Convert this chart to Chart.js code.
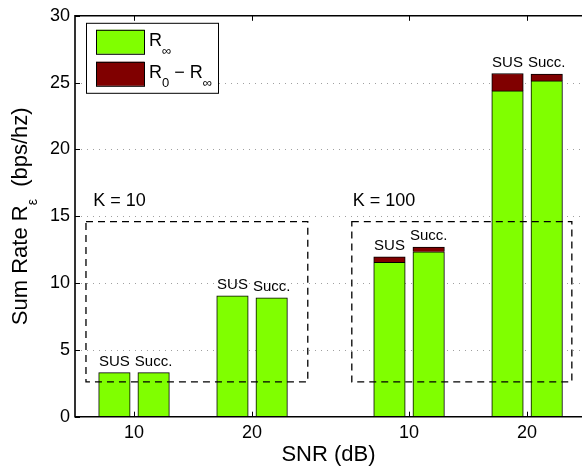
<!DOCTYPE html>
<html>
<head>
<meta charset="utf-8">
<script src="https://cdn.jsdelivr.net/npm/chart.js@4/dist/chart.umd.min.js"></script>
<style>
  html, body { margin: 0; padding: 0; background: #fff; overflow: hidden; }
  #wrap { width: 582px; height: 468px; }
</style>
</head>
<body>
<div id="wrap"><canvas id="c" width="582" height="468"></canvas></div>
<script>
// SNR tick labels, one per bar group (two user-count settings)
const snrLabels = ['10', '20', '10', '20'];
const userCountLabels = ['K = 10', 'K = 100'];
const schemeLabels = ['SUS', 'Succ.'];

// Sum rate per bar, ordered group by group: [SUS, Succ.] for each SNR group
const rateInf = [3.3, 3.3, 9.05, 8.9, 11.55, 12.34, 24.38, 25.13];   // R_inf
const rateGap = [0, 0, 0, 0, 0.42, 0.35, 1.3, 0.5];                   // R_0 - R_inf

const yTicks = [0, 5, 10, 15, 20, 25, 30];

// Layout of the bar groups along the x axis
const FONT = '"Liberation Sans", Arial, Helvetica, sans-serif';
const groupGap = 0.33;          // extra space between the K = 10 and K = 100 halves
const barOffset = 0.166;        // distance of each bar from its group centre
const groupCenter = g => 1 + g + Math.floor(g / 2) * groupGap;
const xMin = 0.5;
const xMax = groupCenter(snrLabels.length - 1) + 0.465;

const greenPts = [], redPts = [];
rateInf.forEach((v, i) => {
  const g = Math.floor(i / 2), s = i % 2;
  const x = groupCenter(g) + (s === 0 ? -barOffset : barOffset);
  greenPts.push({ x, y: v });
  redPts.push({ x, y: rateGap[i] });
});

// Dashed frames around each K setting, with the label placed above
const kFrames = [
  { x0: 0.593, x1: 2.472, y0: 2.6, y1: 14.6, labelX: 0.655, labelY: 15.8 },
  { x0: 2.845, x1: 4.709, y0: 2.6, y1: 14.6, labelX: 2.853, labelY: 15.8 }
];

// Rich-text pieces (subscripts) for legend and y-axis title
const legendParts = [
  [{ t: 'R' }, { t: '\u221E', sub: true }],
  [{ t: 'R' }, { t: '0', sub: true }, { t: ' \u2212 R' }, { t: '\u221E', sub: true }]
];
const yTitleParts = [{ t: 'Sum Rate R' }, { t: '\u03B5', sub: true }, { t: '  (bps/hz)' }];

function richWidth(ctx, parts, size, subSize) {
  let w = 0;
  for (const p of parts) {
    ctx.font = `${p.sub ? subSize : size}px ${FONT}`;
    w += ctx.measureText(p.t).width;
  }
  return w;
}
function drawRich(ctx, parts, x, y, size, subSize, subShift) {
  let cx = x;
  for (const p of parts) {
    ctx.font = `${p.sub ? subSize : size}px ${FONT}`;
    ctx.fillText(p.t, cx, y + (p.sub ? subShift : 0));
    cx += ctx.measureText(p.t).width;
  }
}

const decorations = {
  id: 'decorations',
  beforeDatasetsDraw(chart) {
    const { ctx, chartArea: a, scales: { x, y } } = chart;
    ctx.save();
    // dotted horizontal grid
    ctx.strokeStyle = '#a0a0a0';
    ctx.lineWidth = 1;
    ctx.setLineDash([1, 5]);
    yTicks.slice(1, -1).forEach(v => {
      const py = Math.round(y.getPixelForValue(v)) + 0.5;
      ctx.beginPath(); ctx.moveTo(a.left, py); ctx.lineTo(a.right, py); ctx.stroke();
    });
    ctx.setLineDash([]);
    // inward tick marks
    ctx.strokeStyle = '#000';
    yTicks.forEach(v => {
      const py = Math.round(y.getPixelForValue(v)) + 0.5;
      ctx.beginPath(); ctx.moveTo(a.left, py); ctx.lineTo(a.left + 5, py); ctx.stroke();
    });
    snrLabels.forEach((_, g) => {
      const px = Math.round(x.getPixelForValue(groupCenter(g))) + 0.5;
      ctx.beginPath(); ctx.moveTo(px, a.bottom); ctx.lineTo(px, a.bottom - 5); ctx.stroke();
      ctx.beginPath(); ctx.moveTo(px, a.top); ctx.lineTo(px, a.top + 5); ctx.stroke();
    });
    ctx.restore();
  },
  afterDatasetsDraw(chart) {
    const { ctx, chartArea: a, scales: { x, y } } = chart;
    ctx.save();
    // axes frame (left, top, bottom; the right side lies at the canvas edge)
    ctx.strokeStyle = '#000';
    ctx.lineWidth = 1.6;
    ctx.beginPath();
    ctx.moveTo(a.right + 2, a.top);
    ctx.lineTo(a.left, a.top);
    ctx.lineTo(a.left, a.bottom);
    ctx.lineTo(a.right + 2, a.bottom);
    ctx.stroke();

    // dashed frames and K labels
    ctx.lineWidth = 1.3;
    ctx.setLineDash([7, 5]);
    kFrames.forEach(f => {
      const x0 = x.getPixelForValue(f.x0), x1 = x.getPixelForValue(f.x1);
      const y0 = y.getPixelForValue(f.y0), y1 = y.getPixelForValue(f.y1);
      ctx.strokeRect(x0, y1, x1 - x0, y0 - y1);
    });
    ctx.setLineDash([]);
    ctx.fillStyle = '#000';
    ctx.textAlign = 'left';
    ctx.textBaseline = 'alphabetic';
    ctx.font = `18px ${FONT}`;
    kFrames.forEach((f, k) => {
      ctx.fillText(userCountLabels[k], x.getPixelForValue(f.labelX), y.getPixelForValue(f.labelY));
    });

    // scheme labels above each stacked bar
    const top = chart.getDatasetMeta(1).data;
    ctx.font = `15px ${FONT}`;
    ctx.textAlign = 'center';
    top.forEach((bar, i) => {
      ctx.fillText(schemeLabels[i % 2], bar.x, bar.y - 7);
    });

    // legend
    const lx = a.left + 11, ly = a.top + 7, lw = 132, lh = 70;
    ctx.fillStyle = '#fff';
    ctx.fillRect(lx, ly, lw, lh);
    ctx.lineWidth = 1;
    ctx.strokeStyle = '#000';
    ctx.strokeRect(lx + 0.5, ly + 0.5, lw, lh);
    ctx.textAlign = 'left';
    chart.data.datasets.forEach((ds, i) => {
      const sy = ly + 7 + i * 32;
      ctx.fillStyle = ds.backgroundColor;
      ctx.fillRect(lx + 10, sy, 48, 24);
      ctx.strokeRect(lx + 10.5, sy + 0.5, 48, 24);
      ctx.fillStyle = '#000';
      drawRich(ctx, legendParts[i], lx + 63, sy + 16, 18, 13, 9);
    });

    // y-axis title with subscript
    const w = richWidth(ctx, yTitleParts, 22, 14);
    ctx.translate(27, (a.top + a.bottom) / 2);
    ctx.rotate(-Math.PI / 2);
    drawRich(ctx, yTitleParts, -w / 2, 0, 22, 14, 10);
    ctx.restore();
  }
};

new Chart(document.getElementById('c'), {
  type: 'bar',
  data: {
    datasets: [
      { label: 'R\u221E', data: greenPts, backgroundColor: '#80ff00',
        borderColor: '#000', borderWidth: 1, barThickness: 31.5 },
      { label: 'R0 \u2212 R\u221E', data: redPts, backgroundColor: '#800000',
        borderColor: '#000', borderWidth: 1, barThickness: 31.5 }
    ]
  },
  options: {
    responsive: false,
    animation: false,
    events: [],
    layout: { padding: { left: 0, right: 0, top: 15.5, bottom: 0 } },
    plugins: { legend: { display: false }, tooltip: { enabled: false } },
    scales: {
      x: {
        type: 'linear', min: xMin, max: xMax, offset: false, stacked: true,
        grid: { display: false, drawTicks: false },
        border: { display: false },
        afterBuildTicks: s => { s.ticks = snrLabels.map((_, g) => ({ value: groupCenter(g) })); },
        afterFit: s => { s.height = 51.3; },
        ticks: {
          autoSkip: false, maxRotation: 0, padding: 6, color: '#000',
          font: { family: FONT, size: 18 },
          callback: (v, i) => snrLabels[i]
        },
        title: { display: true, text: 'SNR (dB)', color: '#000', padding: { top: 0, bottom: 0 },
                 font: { family: FONT, size: 22 } }
      },
      y: {
        min: 0, max: 30, stacked: true,
        grid: { display: false, drawTicks: false },
        border: { display: false },
        afterBuildTicks: s => { s.ticks = yTicks.map(v => ({ value: v })); },
        afterFit: s => { s.width = 75; },
        ticks: { padding: 5, color: '#000', font: { family: FONT, size: 18 } }
      }
    }
  },
  plugins: [decorations]
});
</script>
</body>
</html>
